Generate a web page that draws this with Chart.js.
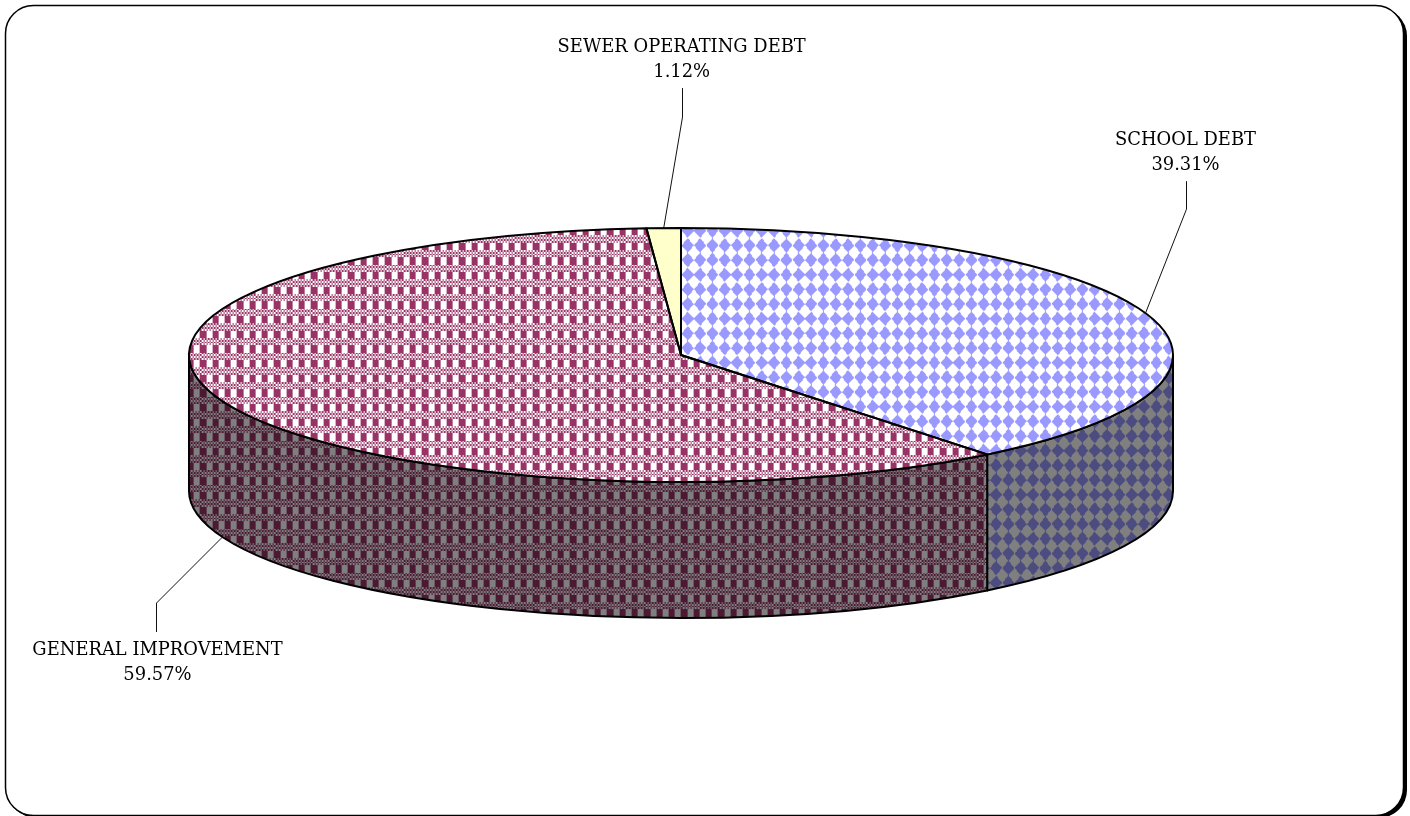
<!DOCTYPE html>
<html>
<head>
<meta charset="utf-8">
<style>
  html, body { margin: 0; padding: 0; background: #fff; }
  canvas { display: block; }
</style>
<script src="https://cdn.jsdelivr.net/npm/chart.js@4"></script>
</head>
<body>
<canvas id="debtPie" width="1410" height="816"></canvas>
<script>
const sliceNames = ['SCHOOL DEBT', 'GENERAL IMPROVEMENT', 'SEWER OPERATING DEBT'];
const slicePercents = [39.31, 59.57, 1.12];

// label offset from the leader's start on the rim
const labelStyle = [
  { bend: [40, -104], end: [40, -132], text: [40, -174] },
  { bend: [-66, 66], end: [-66, 95], text: [-65, 112] },
  { bend: [18, -111], end: [18, -140], text: [18, -182] }
];

const tilt = 127 / 492;
const wallDepth = 136;
const labelFont = '17.9px "DejaVu Serif"';

const TILE_W = 37;
const TILE_H = 44;

// solid diamonds on an 8 cell grid, tips touching
function diamondCell(u, v) {
  return Math.abs(u % 8 - 4) + Math.abs(v % 8 - 4) <= 3.95;
}

// plaid hatch: dither band then blocks
const plaidBits = [0x55, 0xaa, 0x55, 0xaa, 0x0f, 0x0f, 0x0f, 0x0f];
function plaidCell(u, v) {
  return (plaidBits[Math.floor(v) % 8] & (0x80 >> (Math.floor(u) % 8))) !== 0;
}

function hatch(cell, fg, bg) {
  const tile = document.createElement('canvas');
  tile.width = TILE_W;
  tile.height = TILE_H;
  const t = tile.getContext('2d');
  t.fillStyle = bg;
  t.fillRect(0, 0, TILE_W, TILE_H);
  t.fillStyle = fg;
  for (let y = 0; y < TILE_H; y++) {
    for (let x = 0; x < TILE_W; x++) {
      if (cell((x + 0.5) * 24 / TILE_W, (y + 0.5) * 24 / TILE_H)) t.fillRect(x, y, 1, 1);
    }
  }
  return t.canvas;
}

const canvas = document.getElementById('debtPie');
const ctx = canvas.getContext('2d');
const topFills = [
  ctx.createPattern(hatch(diamondCell, '#9999ff', '#ffffff'), 'repeat'),
  ctx.createPattern(hatch(plaidCell, '#993366', '#ffffff'), 'repeat'),
  '#ffffcc'
];
const wallFills = [
  ctx.createPattern(hatch(diamondCell, '#4c4c80', '#7f7f7f'), 'repeat'),
  ctx.createPattern(hatch(plaidCell, '#4c1933', '#7f7f7f'), 'repeat'),
  '#80806a'
];
const fillPhase = [[27.83, 32.67], [33.6, 30], [0, 0]];

function frame(c) {
  c.save();
  c.fillStyle = '#000';
  c.beginPath();
  c.roundRect(8, 8, 1399, 810, 28);
  c.fill();
  c.fillStyle = '#fff';
  c.strokeStyle = '#000';
  c.lineWidth = 1.5;
  c.beginPath();
  c.roundRect(5.5, 5.5, 1398, 810, 28);
  c.fill();
  c.stroke();
  c.restore();
}

const pie3d = {
  id: 'pie3d',
  beforeDraw(chart) {
    frame(chart.ctx);
  },
  beforeDatasetsDraw(chart) {
    const c = chart.ctx;
    const arcs = chart.getDatasetMeta(0).data;
    c.save();
    c.strokeStyle = '#000';
    c.lineWidth = 2;
    c.lineJoin = 'round';
    arcs.forEach((arc, i) => {
      const a = Math.max(arc.startAngle, 0);
      const b = Math.min(arc.endAngle, Math.PI);
      if (b <= a) return;
      const r = arc.outerRadius;
      if (wallFills[i] instanceof CanvasPattern) {
        wallFills[i].setTransform(new DOMMatrix().translate(fillPhase[i][0], fillPhase[i][1]));
      }
      c.beginPath();
      c.ellipse(arc.x, arc.y, r, r * tilt, 0, a, b);
      c.ellipse(arc.x, arc.y + wallDepth, r, r * tilt, 0, b, a, true);
      c.closePath();
      c.fillStyle = wallFills[i];
      c.fill();
      c.stroke();
    });
    c.restore();
  },
  beforeDatasetDraw(chart) {
    const c = chart.ctx;
    const arc = chart.getDatasetMeta(0).data[0];
    c.save();
    c.translate(arc.x, arc.y);
    c.scale(1, tilt);
    c.translate(-arc.x, -arc.y);
    // keep the hatch square to the page, not flattened with the disc
    const inv = c.getTransform().inverse();
    topFills.forEach((f, i) => {
      if (f instanceof CanvasPattern) f.setTransform(inv.translate(fillPhase[i][0], fillPhase[i][1]));
    });
  },
  afterDatasetDraw(chart) {
    chart.ctx.restore();
  },
  afterDatasetsDraw(chart) {
    const c = chart.ctx;
    const arcs = chart.getDatasetMeta(0).data;
    c.save();
    c.strokeStyle = '#000';
    c.lineWidth = 2;
    c.lineJoin = 'round';
    arcs.forEach(arc => {
      const r = arc.outerRadius;
      c.beginPath();
      c.moveTo(arc.x, arc.y);
      c.ellipse(arc.x, arc.y, r, r * tilt, 0, arc.startAngle, arc.endAngle);
      c.closePath();
      c.stroke();
    });

    // leaders and labels
    c.lineWidth = 1;
    c.strokeStyle = '#111';
    c.fillStyle = '#000';
    c.font = labelFont;
    c.textAlign = 'center';
    c.textBaseline = 'middle';
    arcs.forEach((arc, i) => {
      const mid = (arc.startAngle + arc.endAngle) / 2;
      const r = arc.outerRadius;
      const x = arc.x + Math.cos(mid) * r;
      let y = arc.y + Math.sin(mid) * r * tilt;
      if (Math.sin(mid) > 0) y += wallDepth;
      const s = labelStyle[i];
      c.beginPath();
      c.moveTo(x, y);
      c.lineTo(Math.round(x + s.bend[0]) + 0.5, y + s.bend[1]);
      c.lineTo(Math.round(x + s.end[0]) + 0.5, y + s.end[1]);
      c.stroke();
      c.fillText(sliceNames[i], x + s.text[0], y + s.text[1] + 1);
      c.fillText(slicePercents[i].toFixed(2) + '%', x + s.text[0], y + s.text[1] + 26);
    });
    c.restore();
  }
};

new Chart(ctx, {
  type: 'pie',
  data: {
    labels: sliceNames,
    datasets: [{
      data: slicePercents,
      backgroundColor: topFills,
      borderWidth: 0,
      radius: 492,
      clip: false
    }]
  },
  options: {
    responsive: false,
    animation: false,
    events: [],
    layout: { padding: { left: 0, right: 48, top: 0, bottom: 106 } },
    plugins: {
      legend: { display: false },
      tooltip: { enabled: false }
    }
  },
  plugins: [pie3d]
});
</script>
</body>
</html>
